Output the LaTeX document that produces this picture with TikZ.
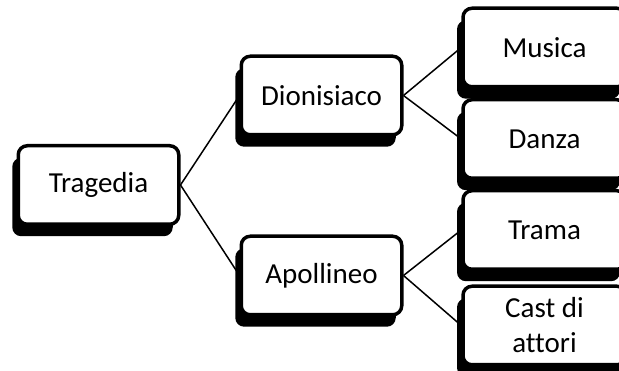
\documentclass[tikz,border=0pt]{standalone}
\usepackage{fontspec}
\setmainfont{Carlito}[Ligatures=NoCommon]
\usepackage{tikz}
\usetikzlibrary{shadows}

\begin{document}
\begin{tikzpicture}[x=1pt,y=-1pt,
    box/.style={draw=black,line width=3.5pt,fill=white,rounded corners=9pt,inner sep=0pt,align=center,
      font=\fontsize{29pt}{35pt}\selectfont,minimum width=160.5pt,minimum height=78.5pt,
      drop shadow={shadow xshift=-6pt,shadow yshift=-12pt,fill=black,opacity=1}},
    leaf/.style={box,minimum width=163pt},
    link/.style={draw=black,line width=1.5pt}]
   \useasboundingbox (0,0) rectangle (619,371);
   \node[box]  (T)  at (98.5,185)   {Tragedia};
   \node[box]  (D)  at (321.5,95.5) {Dionisiaco};
   \node[box]  (A)  at (321.5,275.5){Apollineo};
   \node[leaf] (Mu) at (544.5,47.5) {Musica};
   \node[leaf] (Da) at (544.5,139)  {Danza};
   \node[leaf] (Tr) at (544.5,230)  {Trama};
   \node[leaf] (Ca) at (544.5,325.5){Cast di\\attori};
   \draw[link] (T.east)--(D.west);
   \draw[link] (T.east)--(A.west);
   \draw[link] (D.east)--(Mu.west);
   \draw[link] (D.east)--(Da.west);
   \draw[link] (A.east)--(Tr.west);
   \draw[link] (A.east)--(Ca.west);
  \end{tikzpicture}
\end{document}
